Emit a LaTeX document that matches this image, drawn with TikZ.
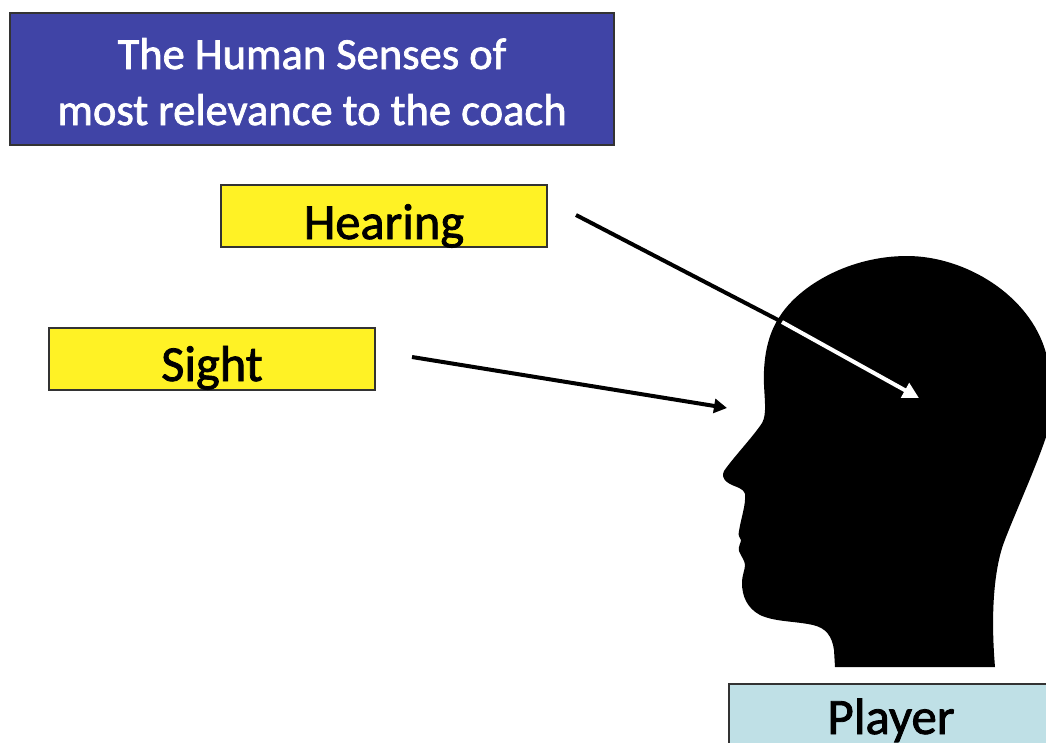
\documentclass[tikz,border=0pt]{standalone}
\usepackage{fontspec}
\setmainfont{Carlito}[FakeBold=1.6]
\usetikzlibrary{arrows.meta}
\definecolor{titleblue}{HTML}{4044A6}
\definecolor{senseyellow}{HTML}{FFF225}
\definecolor{playerblue}{HTML}{BFE0E6}
\newcommand{\placeline}[2]{\makebox[0pt]{\raisebox{#1}[0pt][0pt]{#2}}}
\tikzset{
  box/.style={draw=black!80!white,line width=2pt,inner sep=0pt,anchor=north west},
  title/.style={box,fill=titleblue,text=white,minimum width=604pt,minimum height=132pt,font=\fontsize{44.5}{55}\selectfont},
  sense/.style={box,fill=senseyellow,text=black,minimum width=326pt,minimum height=62pt,font=\fontsize{50.5}{50}\selectfont},
  player/.style={box,fill=playerblue,text=black,minimum width=330pt,minimum height=62pt,font=\fontsize{51}{50}\selectfont},
  blackarrow/.style={draw=black,line width=4pt,-{Triangle[length=13pt,width=14pt]}},
  blackline/.style={draw=black,line width=4pt},
  whitearrow/.style={draw=white,line width=4pt,-{Triangle[length=16pt,width=16pt]}}
}
\begin{document}
\begin{tikzpicture}[x=1pt,y=-1pt]
\useasboundingbox (0,0) rectangle (1046,742);
\clip (0,0) rectangle (1046,742);
\fill[white] (0,0) rectangle (1046,742);
\node[title] (titlebox) at (9,12) {\placeline{10pt}{The Human Senses of}\placeline{-46pt}{most relevance to the coach}};
\node[sense] (hearing) at (220,184) {\placeline{-23pt}{Hearing}};
\node[sense] (sight) at (48,327) {\placeline{-22pt}{Sight}};
\node[player] (playerbox) at (728,683) {\hspace{-6pt}\placeline{-19pt}{Player}};
% head silhouette
\fill[black] (835,667)
  -- (834,650)
  .. controls (832,636) and (826,628) .. (813,625)
  .. controls (795,621) and (775,622) .. (760,615)
  .. controls (747,608) and (742,596) .. (742,583)
  .. controls (742,575) and (745,570) .. (745,565)
  .. controls (745,561) and (741,556) .. (739,551)
  .. controls (738,546) and (741,543) .. (741,540)
  .. controls (739,537) and (738,535) .. (739,531)
  .. controls (741,518) and (746,505) .. (745,494)
  .. controls (743,487) and (733,487) .. (727,482)
  .. controls (723,479) and (722,475) .. (724,471)
  .. controls (733,458) and (750,440) .. (760,426)
  .. controls (767,418) and (765,405) .. (764,385)
  .. controls (763,360) and (767,335) .. (780,316)
  .. controls (800,285) and (850,256) .. (907,256)
  .. controls (965,256) and (1030,295) .. (1046,353)
  -- (1046,437)
  .. controls (1035,470) and (1012,520) .. (1003,545)
  .. controls (993,575) and (991,620) .. (995,667)
  -- cycle;
\coordinate (hearstart) at (576,215);
\coordinate (hearmid) at (782,322);
\coordinate (hearend) at (919,398);
\coordinate (sightstart) at (412,357);
\coordinate (sightend) at (727,408);
\draw[blackline] (hearstart) -- (hearmid);
\draw[whitearrow] (hearmid) -- (hearend);
\draw[blackarrow] (sightstart) -- (sightend);
\end{tikzpicture}
\end{document}
